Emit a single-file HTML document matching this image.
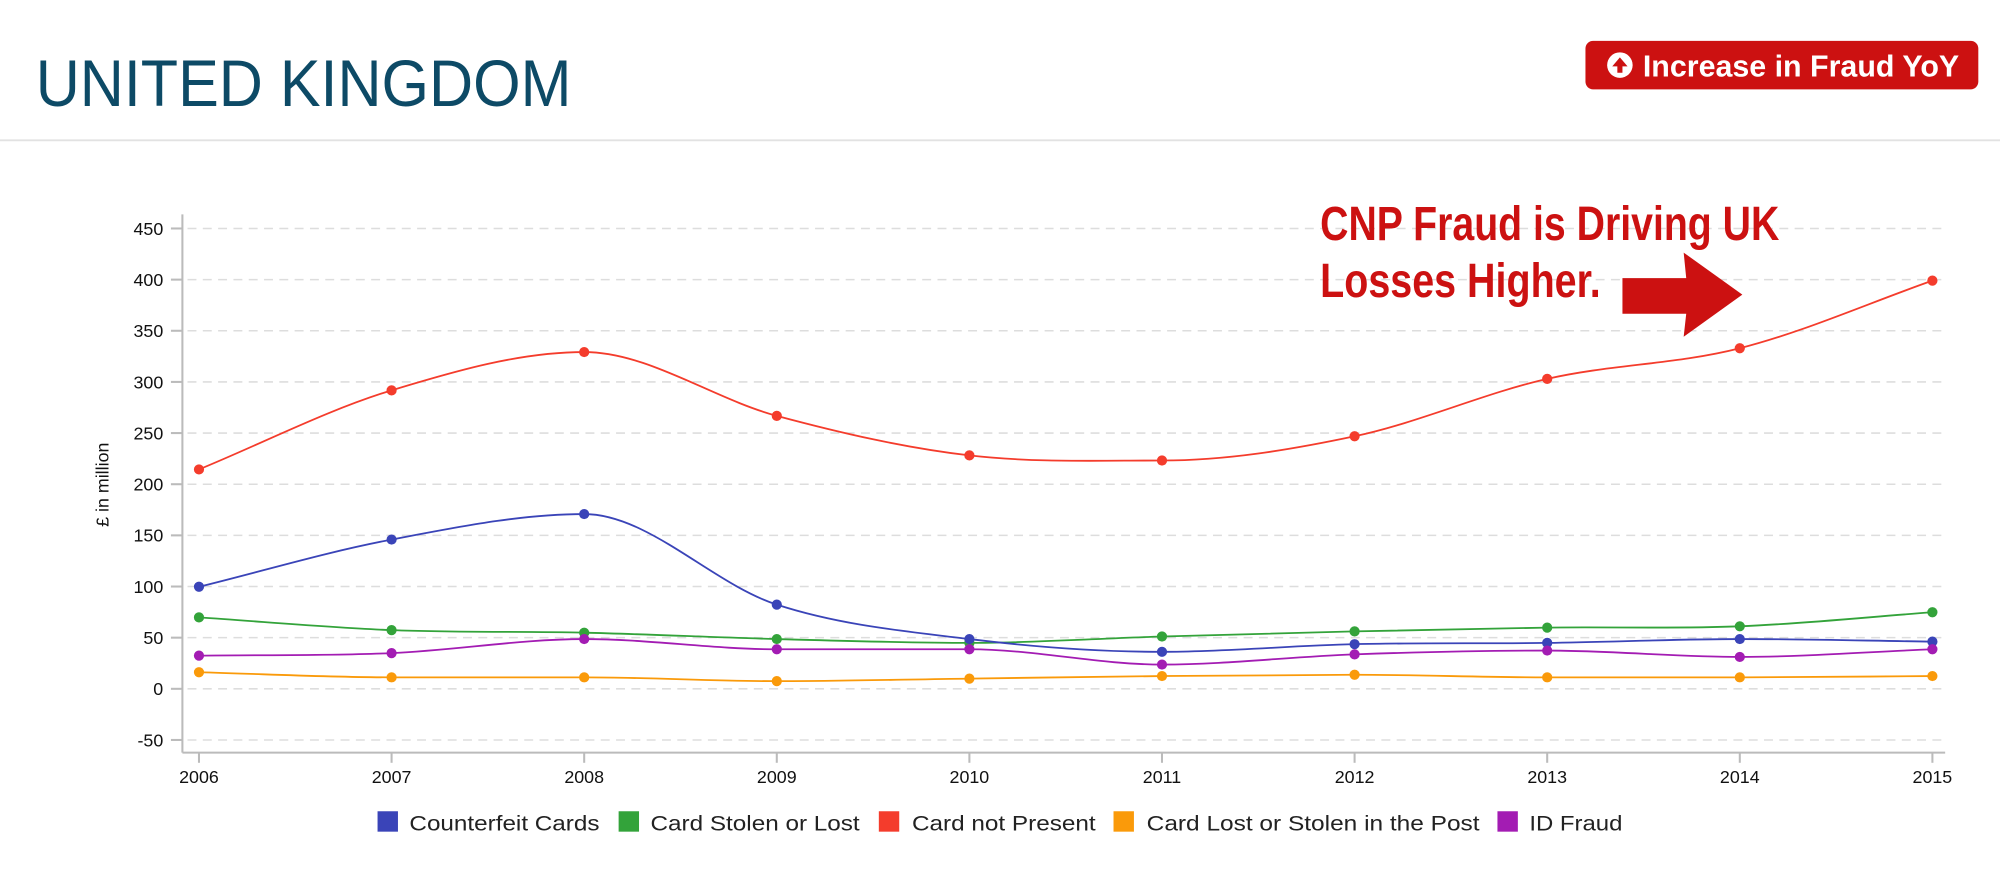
<!DOCTYPE html>
<html><head><meta charset="utf-8"><style>
body{margin:0;background:#fff;width:2000px;height:884px;overflow:hidden;font-family:"Liberation Sans",sans-serif}
</style></head><body>
<svg width="2000" height="884" viewBox="0 0 1568 693" xmlns="http://www.w3.org/2000/svg" id="s">
<text x="28" y="83" font-size="52" fill="#0d4a66" textLength="420" lengthAdjust="spacingAndGlyphs">UNITED KINGDOM</text>
<line x1="0" y1="110" x2="1568" y2="110" stroke="#e2e2e2" stroke-width="1.5"/>
<rect x="1243" y="32" width="308" height="38" rx="6" fill="#cc1111"/>
<circle cx="1270" cy="51" r="10" fill="#fff"/>
<path d="M1270 45 L1264 52 L1268 52 L1268 57 L1272 57 L1272 52 L1276 52 Z" fill="#cc1111"/>
<text x="1288" y="60" font-size="24" font-weight="bold" fill="#fff" textLength="248" lengthAdjust="spacingAndGlyphs">Increase in Fraud YoY</text>
<g id="grid"></g>
<g font-family="Liberation Sans Narrow, Liberation Sans, sans-serif" font-weight="bold" font-size="38" fill="#cc1111">
<text x="1035" y="188" textLength="360" lengthAdjust="spacingAndGlyphs">CNP Fraud is Driving UK</text>
<text x="1035" y="233" textLength="220" lengthAdjust="spacingAndGlyphs">Losses Higher.</text>
</g>
<path d="M1272 218 L1322 218 L1320 198 L1366 231 L1320 264 L1322 246 L1272 246 Z" fill="#cc1111"/>
<line x1="143" y1="168" x2="143" y2="590" stroke="#bbb" stroke-width="1.6"/>
<line x1="143" y1="590" x2="1525" y2="590" stroke="#bbb" stroke-width="1.6"/>
<text transform="translate(85,380) rotate(-90)" text-anchor="middle" font-size="14" fill="#111">£ in million</text>
<g id="series"></g>
<g font-size="17" fill="#222">
<rect x="296" y="636" width="16" height="16" fill="#3a44b8"/><text x="321" y="651" textLength="149" lengthAdjust="spacingAndGlyphs">Counterfeit Cards</text>
<rect x="485" y="636" width="16" height="16" fill="#33a33a"/><text x="510" y="651" textLength="164" lengthAdjust="spacingAndGlyphs">Card Stolen or Lost</text>
<rect x="689" y="636" width="16" height="16" fill="#f43c2c"/><text x="715" y="651" textLength="144" lengthAdjust="spacingAndGlyphs">Card not Present</text>
<rect x="873" y="636" width="16" height="16" fill="#fa9a0a"/><text x="899" y="651" textLength="261" lengthAdjust="spacingAndGlyphs">Card Lost or Stolen in the Post</text>
<rect x="1174" y="636" width="16" height="16" fill="#a31cb3"/><text x="1199" y="651" textLength="73" lengthAdjust="spacingAndGlyphs">ID Fraud</text>
</g>
</svg>
<script>
var NS="http://www.w3.org/2000/svg";
function el(p,t,a,txt){var e=document.createElementNS(NS,t);for(var k in a)e.setAttribute(k,a[k]);if(txt!=null)e.textContent=txt;p.appendChild(e);return e;}
var g=document.getElementById("grid");
for(var v=-50;v<=450;v+=50){var y=540-v*0.802;
 el(g,"line",{x1:147,y1:y,x2:1525,y2:y,stroke:"#ddd","stroke-width":1.2,"stroke-dasharray":"7,5"});
 el(g,"line",{x1:134,y1:y,x2:143,y2:y,stroke:"#bbb","stroke-width":1.6});
 el(g,"text",{x:128,y:y+5,"text-anchor":"end","font-size":14,fill:"#111"},String(v));}
for(var i=0;i<10;i++){var x=156+i*151;
 el(g,"line",{x1:x,y1:590,x2:x,y2:598,stroke:"#bbb","stroke-width":1.6});
 el(g,"text",{x:x,y:614,"text-anchor":"middle","font-size":14,fill:"#111"},String(2006+i));}
var S=[
["#f43c2c",[368,306,276,326,357,361,342,297,273,220]],
["#33a33a",[484,494,496,501,504,499,495,492,491,480]],
["#3a44b8",[460,423,403,474,501,511,505,504,501,503]],
["#a31cb3",[514,512,501,509,509,521,513,510,515,509]],
["#fa9a0a",[527,531,531,534,532,530,529,531,531,530]]];
var sg=document.getElementById("series");
S.forEach(function(s){var ys=s[1],n=ys.length,h=151,d=[],m=[];
 for(var i=0;i<n-1;i++)d.push((ys[i+1]-ys[i])/h);
 m[0]=d[0];m[n-1]=d[n-2];
 for(var i=1;i<n-1;i++){m[i]=(d[i-1]*d[i]<=0)?0:(d[i-1]+d[i])/2;}
 var p="M156,"+ys[0];
 for(var i=0;i<n-1;i++){var x0=156+i*h,x1=x0+h;
  p+=" C"+(x0+h/3)+","+(ys[i]+m[i]*h/3)+" "+(x1-h/3)+","+(ys[i+1]-m[i+1]*h/3)+" "+x1+","+ys[i+1];}
 el(sg,"path",{d:p,fill:"none",stroke:s[0],"stroke-width":1.4});
 ys.forEach(function(y,i){el(sg,"circle",{cx:156+i*151,cy:y,r:4,fill:s[0]});});
});
</script>
</body></html>
